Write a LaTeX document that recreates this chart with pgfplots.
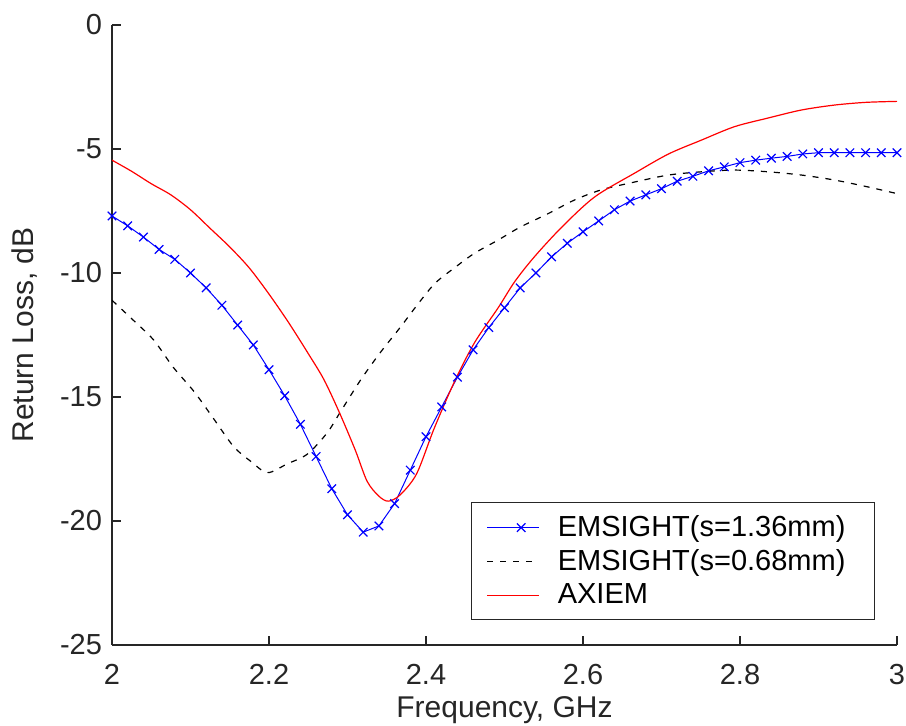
\documentclass[border=0pt]{standalone}
\usepackage{fontspec}
\setmainfont{Liberation Sans}
\usepackage{pgfplots}
\pgfplotsset{compat=1.18}
\begin{document}
\begin{tikzpicture}
\useasboundingbox (-56pt,-40.5pt) rectangle (397pt,322.5pt);
\begin{axis}[
  scale only axis,
  width=392.5pt, height=310pt,
  xmin=2, xmax=3, ymin=-25, ymax=0,
  axis lines*=left,
  axis line style={-, line width=0.8pt, black!85},
  tick align=inside,
  major tick length=4.5pt,
  tick style={line width=0.8pt, black!85},
  xtick={2,2.2,2.4,2.6,2.8,3},
  xticklabels={2,2.2,2.4,2.6,2.8,3},
  ytick={-25,-20,-15,-10,-5,0},
  yticklabels={-25,-20,-15,-10,-5,0},
  tick label style={font=\fontsize{14.5}{17}\selectfont, black!85},
  xticklabel style={yshift=-6pt},
  yticklabel style={xshift=-1.5pt},
  label style={font=\fontsize{15}{18}\selectfont, black!85},
  xlabel={Frequency, GHz},
  ylabel={Return Loss, dB},
  xlabel style={at={(axis description cs:0.5,-0.105)}, anchor=center},
  ylabel style={at={(axis description cs:-0.112,0.5)}, anchor=center},
  legend style={at={(axis description cs:0.972,0.04)}, anchor=south east,
    font=\fontsize{14.5}{17}\selectfont, draw=black!85, line width=0.6pt,
    inner xsep=7.5pt, inner ysep=4.5pt, row sep=1pt, cells={anchor=west}},
  legend image code/.code={\draw[mark repeat=2,mark phase=2,#1] plot coordinates {(0pt,0pt) (17pt,0pt) (26pt,0pt)};},
  legend cell align=left,
]
\addplot[blue, line width=0.5pt, mark=x, mark size=3pt, mark options={line width=0.6pt}] coordinates {
(2.00,-7.7) (2.02,-8.1) (2.04,-8.55) (2.06,-9.05) (2.08,-9.45) (2.10,-10.0)
(2.12,-10.6) (2.14,-11.3) (2.16,-12.1) (2.18,-12.9) (2.20,-13.9) (2.22,-14.95)
(2.24,-16.1) (2.26,-17.4) (2.28,-18.7) (2.30,-19.75) (2.32,-20.45) (2.34,-20.2)
(2.36,-19.3) (2.38,-17.95) (2.40,-16.6) (2.42,-15.4) (2.44,-14.2) (2.46,-13.1)
(2.48,-12.2) (2.50,-11.4) (2.52,-10.6) (2.54,-10.0) (2.56,-9.35) (2.58,-8.8)
(2.60,-8.34) (2.62,-7.9) (2.64,-7.45) (2.66,-7.1) (2.68,-6.85) (2.70,-6.6)
(2.72,-6.3) (2.74,-6.1) (2.76,-5.88) (2.78,-5.72) (2.80,-5.55) (2.82,-5.45)
(2.84,-5.37) (2.86,-5.3) (2.88,-5.2) (2.90,-5.15) (2.92,-5.15) (2.94,-5.15)
(2.96,-5.15) (2.98,-5.15) (3.00,-5.15)
};
\addlegendentry{\hspace{7pt}EMSIGHT(s=1.36mm)\rule{5pt}{0pt}}
\addplot[black, line width=0.6pt, dash pattern=on 3pt off 3.5pt, smooth] coordinates {
(2.0,-11.1) (2.027,-11.9) (2.053,-12.7) (2.078,-13.8) (2.105,-14.8) (2.13,-15.9)
(2.155,-17.0) (2.177,-17.6) (2.198,-18.05) (2.223,-17.7) (2.249,-17.3) (2.274,-16.45)
(2.291,-15.6) (2.317,-14.3) (2.342,-13.2) (2.367,-12.2) (2.391,-11.2) (2.412,-10.4)
(2.438,-9.75) (2.462,-9.2) (2.492,-8.67) (2.52,-8.15) (2.556,-7.6) (2.589,-7.06)
(2.623,-6.65) (2.666,-6.33) (2.709,-6.05) (2.751,-5.92) (2.793,-5.85) (2.836,-5.92)
(2.878,-6.05) (2.92,-6.25) (2.963,-6.53) (3.0,-6.8)
};
\addlegendentry{\hspace{7pt}EMSIGHT(s=0.68mm)\rule{5pt}{0pt}}
\addplot[red, line width=0.6pt, smooth] coordinates {
(2.0,-5.45) (2.025,-5.9) (2.05,-6.4) (2.075,-6.85) (2.10,-7.45) (2.125,-8.2)
(2.15,-8.95) (2.175,-9.8) (2.20,-10.85) (2.225,-12.0) (2.25,-13.25) (2.27,-14.3)
(2.29,-15.65) (2.31,-17.15) (2.325,-18.4) (2.34,-19.0) (2.352,-19.2) (2.367,-18.95)
(2.388,-18.1) (2.41,-16.3) (2.436,-14.4) (2.462,-12.8) (2.492,-11.4) (2.513,-10.35)
(2.538,-9.35) (2.573,-8.15) (2.615,-6.93) (2.666,-5.97) (2.709,-5.2) (2.751,-4.64)
(2.793,-4.1) (2.836,-3.75) (2.878,-3.43) (2.92,-3.23) (2.96,-3.12) (3.0,-3.08)
};
\addlegendentry{\hspace{7pt}AXIEM}
\end{axis}
\end{tikzpicture}
\end{document}
